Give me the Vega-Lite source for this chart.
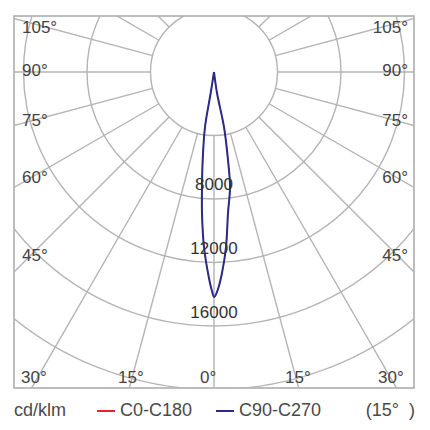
{
  "$schema": "https://vega.github.io/schema/vega-lite/v6.json",
  "width": 400,
  "height": 372,
  "autosize": {"type": "none"},
  "padding": {"left": 14, "top": 16, "right": 16, "bottom": 42},
  "background": "white",
  "config": {
    "view": {"stroke": "#a8a8a8", "strokeWidth": 1.5},
    "font": "Liberation Sans"
  },
  "datasets": {
    "circles": [{"r": 4000}, {"r": 8000}, {"r": 12000}, {"r": 16000}, {"r": 20000}],
    "spokes": [
      {"x1": 0, "y1": -4000, "x2": 0, "y2": -30000},
      {"x1": 1035, "y1": -3864, "x2": 7765, "y2": -28978},
      {"x1": 2000, "y1": -3464, "x2": 15000, "y2": -25981},
      {"x1": 2828, "y1": -2828, "x2": 21213, "y2": -21213},
      {"x1": 3464, "y1": -2000, "x2": 25981, "y2": -15000},
      {"x1": 3864, "y1": -1035, "x2": 28978, "y2": -7765},
      {"x1": 4000, "y1": 0, "x2": 30000, "y2": 0},
      {"x1": 3864, "y1": 1035, "x2": 28978, "y2": 7765},
      {"x1": 3464, "y1": 2000, "x2": 25981, "y2": 15000},
      {"x1": 2828, "y1": 2828, "x2": 21213, "y2": 21213},
      {"x1": 2000, "y1": 3464, "x2": 15000, "y2": 25981},
      {"x1": 1035, "y1": 3864, "x2": 7765, "y2": 28978},
      {"x1": 0, "y1": 4000, "x2": 0, "y2": 30000},
      {"x1": -1035, "y1": -3864, "x2": -7765, "y2": -28978},
      {"x1": -2000, "y1": -3464, "x2": -15000, "y2": -25981},
      {"x1": -2828, "y1": -2828, "x2": -21213, "y2": -21213},
      {"x1": -3464, "y1": -2000, "x2": -25981, "y2": -15000},
      {"x1": -3864, "y1": -1035, "x2": -28978, "y2": -7765},
      {"x1": -4000, "y1": 0, "x2": -30000, "y2": 0},
      {"x1": -3864, "y1": 1035, "x2": -28978, "y2": 7765},
      {"x1": -3464, "y1": 2000, "x2": -25981, "y2": 15000},
      {"x1": -2828, "y1": 2828, "x2": -21213, "y2": 21213},
      {"x1": -2000, "y1": 3464, "x2": -15000, "y2": 25981},
      {"x1": -1035, "y1": 3864, "x2": -7765, "y2": 28978}
    ],
    "curveC0": [
      {"plane": "C0-C180", "i": 0, "x": 0, "y": 0},
      {"plane": "C0-C180", "i": 1, "x": -208, "y": -1323},
      {"plane": "C0-C180", "i": 2, "x": -567, "y": -3465},
      {"plane": "C0-C180", "i": 3, "x": -712, "y": -5544},
      {"plane": "C0-C180", "i": 4, "x": -756, "y": -7245},
      {"plane": "C0-C180", "i": 5, "x": -756, "y": -8883},
      {"plane": "C0-C180", "i": 6, "x": -630, "y": -11025},
      {"plane": "C0-C180", "i": 7, "x": -378, "y": -12663},
      {"plane": "C0-C180", "i": 8, "x": -145, "y": -13734},
      {"plane": "C0-C180", "i": 9, "x": 19, "y": -14175},
      {"plane": "C0-C180", "i": 10, "x": 233, "y": -13734},
      {"plane": "C0-C180", "i": 11, "x": 504, "y": -12663},
      {"plane": "C0-C180", "i": 12, "x": 756, "y": -11025},
      {"plane": "C0-C180", "i": 13, "x": 882, "y": -8883},
      {"plane": "C0-C180", "i": 14, "x": 1008, "y": -7245},
      {"plane": "C0-C180", "i": 15, "x": 882, "y": -5544},
      {"plane": "C0-C180", "i": 16, "x": 630, "y": -3465},
      {"plane": "C0-C180", "i": 17, "x": 189, "y": -1323},
      {"plane": "C0-C180", "i": 18, "x": 0, "y": 0}
    ],
    "curveC90": [
      {"plane": "C90-C270", "i": 0, "x": 0, "y": 0},
      {"plane": "C90-C270", "i": 1, "x": -208, "y": -1323},
      {"plane": "C90-C270", "i": 2, "x": -567, "y": -3465},
      {"plane": "C90-C270", "i": 3, "x": -712, "y": -5544},
      {"plane": "C90-C270", "i": 4, "x": -756, "y": -7245},
      {"plane": "C90-C270", "i": 5, "x": -756, "y": -8883},
      {"plane": "C90-C270", "i": 6, "x": -630, "y": -11025},
      {"plane": "C90-C270", "i": 7, "x": -378, "y": -12663},
      {"plane": "C90-C270", "i": 8, "x": -145, "y": -13734},
      {"plane": "C90-C270", "i": 9, "x": 19, "y": -14175},
      {"plane": "C90-C270", "i": 10, "x": 233, "y": -13734},
      {"plane": "C90-C270", "i": 11, "x": 504, "y": -12663},
      {"plane": "C90-C270", "i": 12, "x": 756, "y": -11025},
      {"plane": "C90-C270", "i": 13, "x": 882, "y": -8883},
      {"plane": "C90-C270", "i": 14, "x": 1008, "y": -7245},
      {"plane": "C90-C270", "i": 15, "x": 882, "y": -5544},
      {"plane": "C90-C270", "i": 16, "x": 630, "y": -3465},
      {"plane": "C90-C270", "i": 17, "x": 189, "y": -1323},
      {"plane": "C90-C270", "i": 18, "x": 0, "y": 0}
    ],
    "leftLabels": [
      {"label": "105°", "x": -12096, "y": 2772},
      {"label": "90°", "x": -12096, "y": 63},
      {"label": "75°", "x": -12096, "y": -3087},
      {"label": "60°", "x": -12096, "y": -6678},
      {"label": "45°", "x": -12096, "y": -11592},
      {"label": "30°", "x": -12159, "y": -19278},
      {"label": "15°", "x": -6048, "y": -19278},
      {"label": "0°", "x": -882, "y": -19278},
      {"label": "15°", "x": 4473, "y": -19278},
      {"label": "30°", "x": 10332, "y": -19278}
    ],
    "rightLabels": [
      {"label": "105°", "x": 12222, "y": 2772},
      {"label": "90°", "x": 12222, "y": 63},
      {"label": "75°", "x": 12222, "y": -3087},
      {"label": "60°", "x": 12222, "y": -6678},
      {"label": "45°", "x": 12222, "y": -11592}
    ],
    "valueLabels": [
      {"label": "8000", "x": 0, "y": -7119},
      {"label": "12000", "x": 0, "y": -11182},
      {"label": "16000", "x": 0, "y": -15152}
    ]
  },
  "layer": [
    {
      "data": {"name": "circles"},
      "mark": {"type": "point", "shape": "circle", "filled": false, "clip": true, "stroke": "#b4b4b4", "strokeWidth": 1.4, "opacity": 1},
      "encoding": {
        "x": {"datum": 0, "type": "quantitative", "scale": {"domain": [-12600, 12600], "nice": false, "zero": false}, "axis": null},
        "y": {"datum": 0, "type": "quantitative", "scale": {"domain": [-19908, 3528], "nice": false, "zero": false}, "axis": null},
        "size": {"field": "r", "type": "quantitative", "scale": {"type": "pow", "exponent": 2, "domain": [0, 20000], "range": [0, 403124]}, "legend": null}
      }
    },
    {
      "data": {"name": "spokes"},
      "mark": {"type": "rule", "clip": true, "color": "#b4b4b4", "strokeWidth": 1.4},
      "encoding": {
        "x": {"field": "x1", "type": "quantitative", "axis": null},
        "y": {"field": "y1", "type": "quantitative", "axis": null},
        "x2": {"field": "x2"},
        "y2": {"field": "y2"}
      }
    },
    {
      "data": {"name": "curveC0"},
      "mark": {"type": "line", "interpolate": "catmull-rom", "strokeWidth": 1, "clip": true},
      "encoding": {
        "x": {"field": "x", "type": "quantitative", "axis": null},
        "y": {"field": "y", "type": "quantitative", "axis": null},
        "order": {"field": "i", "type": "quantitative"},
        "color": {
          "field": "plane", "type": "nominal",
          "scale": {"domain": ["C0-C180", "C90-C270"], "range": ["#e0262b", "#2b2b8a"]},
          "legend": {
            "orient": "bottom", "direction": "horizontal", "title": "cd/klm", "titleOrient": "left",
            "symbolType": "stroke", "symbolStrokeWidth": 2, "symbolSize": 324,
            "labelFontSize": 18, "titleFontSize": 18, "titleFontWeight": "normal",
            "titleColor": "#4a4a4a", "labelColor": "#4a4a4a", "labelFont": "Liberation Sans", "titleFont": "Liberation Sans",
            "columnPadding": 19, "titlePadding": 29, "labelOffset": 4, "offset": 13, "padding": 0
          }
        }
      }
    },
    {
      "data": {"name": "curveC90"},
      "mark": {"type": "line", "interpolate": "catmull-rom", "strokeWidth": 2, "clip": true},
      "encoding": {
        "x": {"field": "x", "type": "quantitative", "axis": null},
        "y": {"field": "y", "type": "quantitative", "axis": null},
        "order": {"field": "i", "type": "quantitative"},
        "color": {"field": "plane", "type": "nominal"}
      }
    },
    {
      "data": {"name": "leftLabels"},
      "mark": {"type": "text", "align": "left", "baseline": "middle", "fontSize": 17, "color": "#444444"},
      "encoding": {
        "x": {"field": "x", "type": "quantitative", "axis": null},
        "y": {"field": "y", "type": "quantitative", "axis": null},
        "text": {"field": "label"}
      }
    },
    {
      "data": {"name": "rightLabels"},
      "mark": {"type": "text", "align": "right", "baseline": "middle", "fontSize": 17, "color": "#444444"},
      "encoding": {
        "x": {"field": "x", "type": "quantitative", "axis": null},
        "y": {"field": "y", "type": "quantitative", "axis": null},
        "text": {"field": "label"}
      }
    },
    {
      "data": {"name": "valueLabels"},
      "mark": {"type": "text", "align": "center", "baseline": "middle", "fontSize": 17, "color": "#333333"},
      "encoding": {
        "x": {"field": "x", "type": "quantitative", "axis": null},
        "y": {"field": "y", "type": "quantitative", "axis": null},
        "text": {"field": "label"}
      }
    },
    {
      "data": {"values": [{"label": "(15°\u00a0\u00a0)"}]},
      "mark": {"type": "text", "align": "right", "baseline": "middle", "fontSize": 18, "color": "#4a4a4a"},
      "encoding": {
        "x": {"datum": 12663, "type": "quantitative", "axis": null},
        "y": {"datum": -21357, "type": "quantitative", "axis": null},
        "text": {"field": "label"}
      }
    }
  ]
}
